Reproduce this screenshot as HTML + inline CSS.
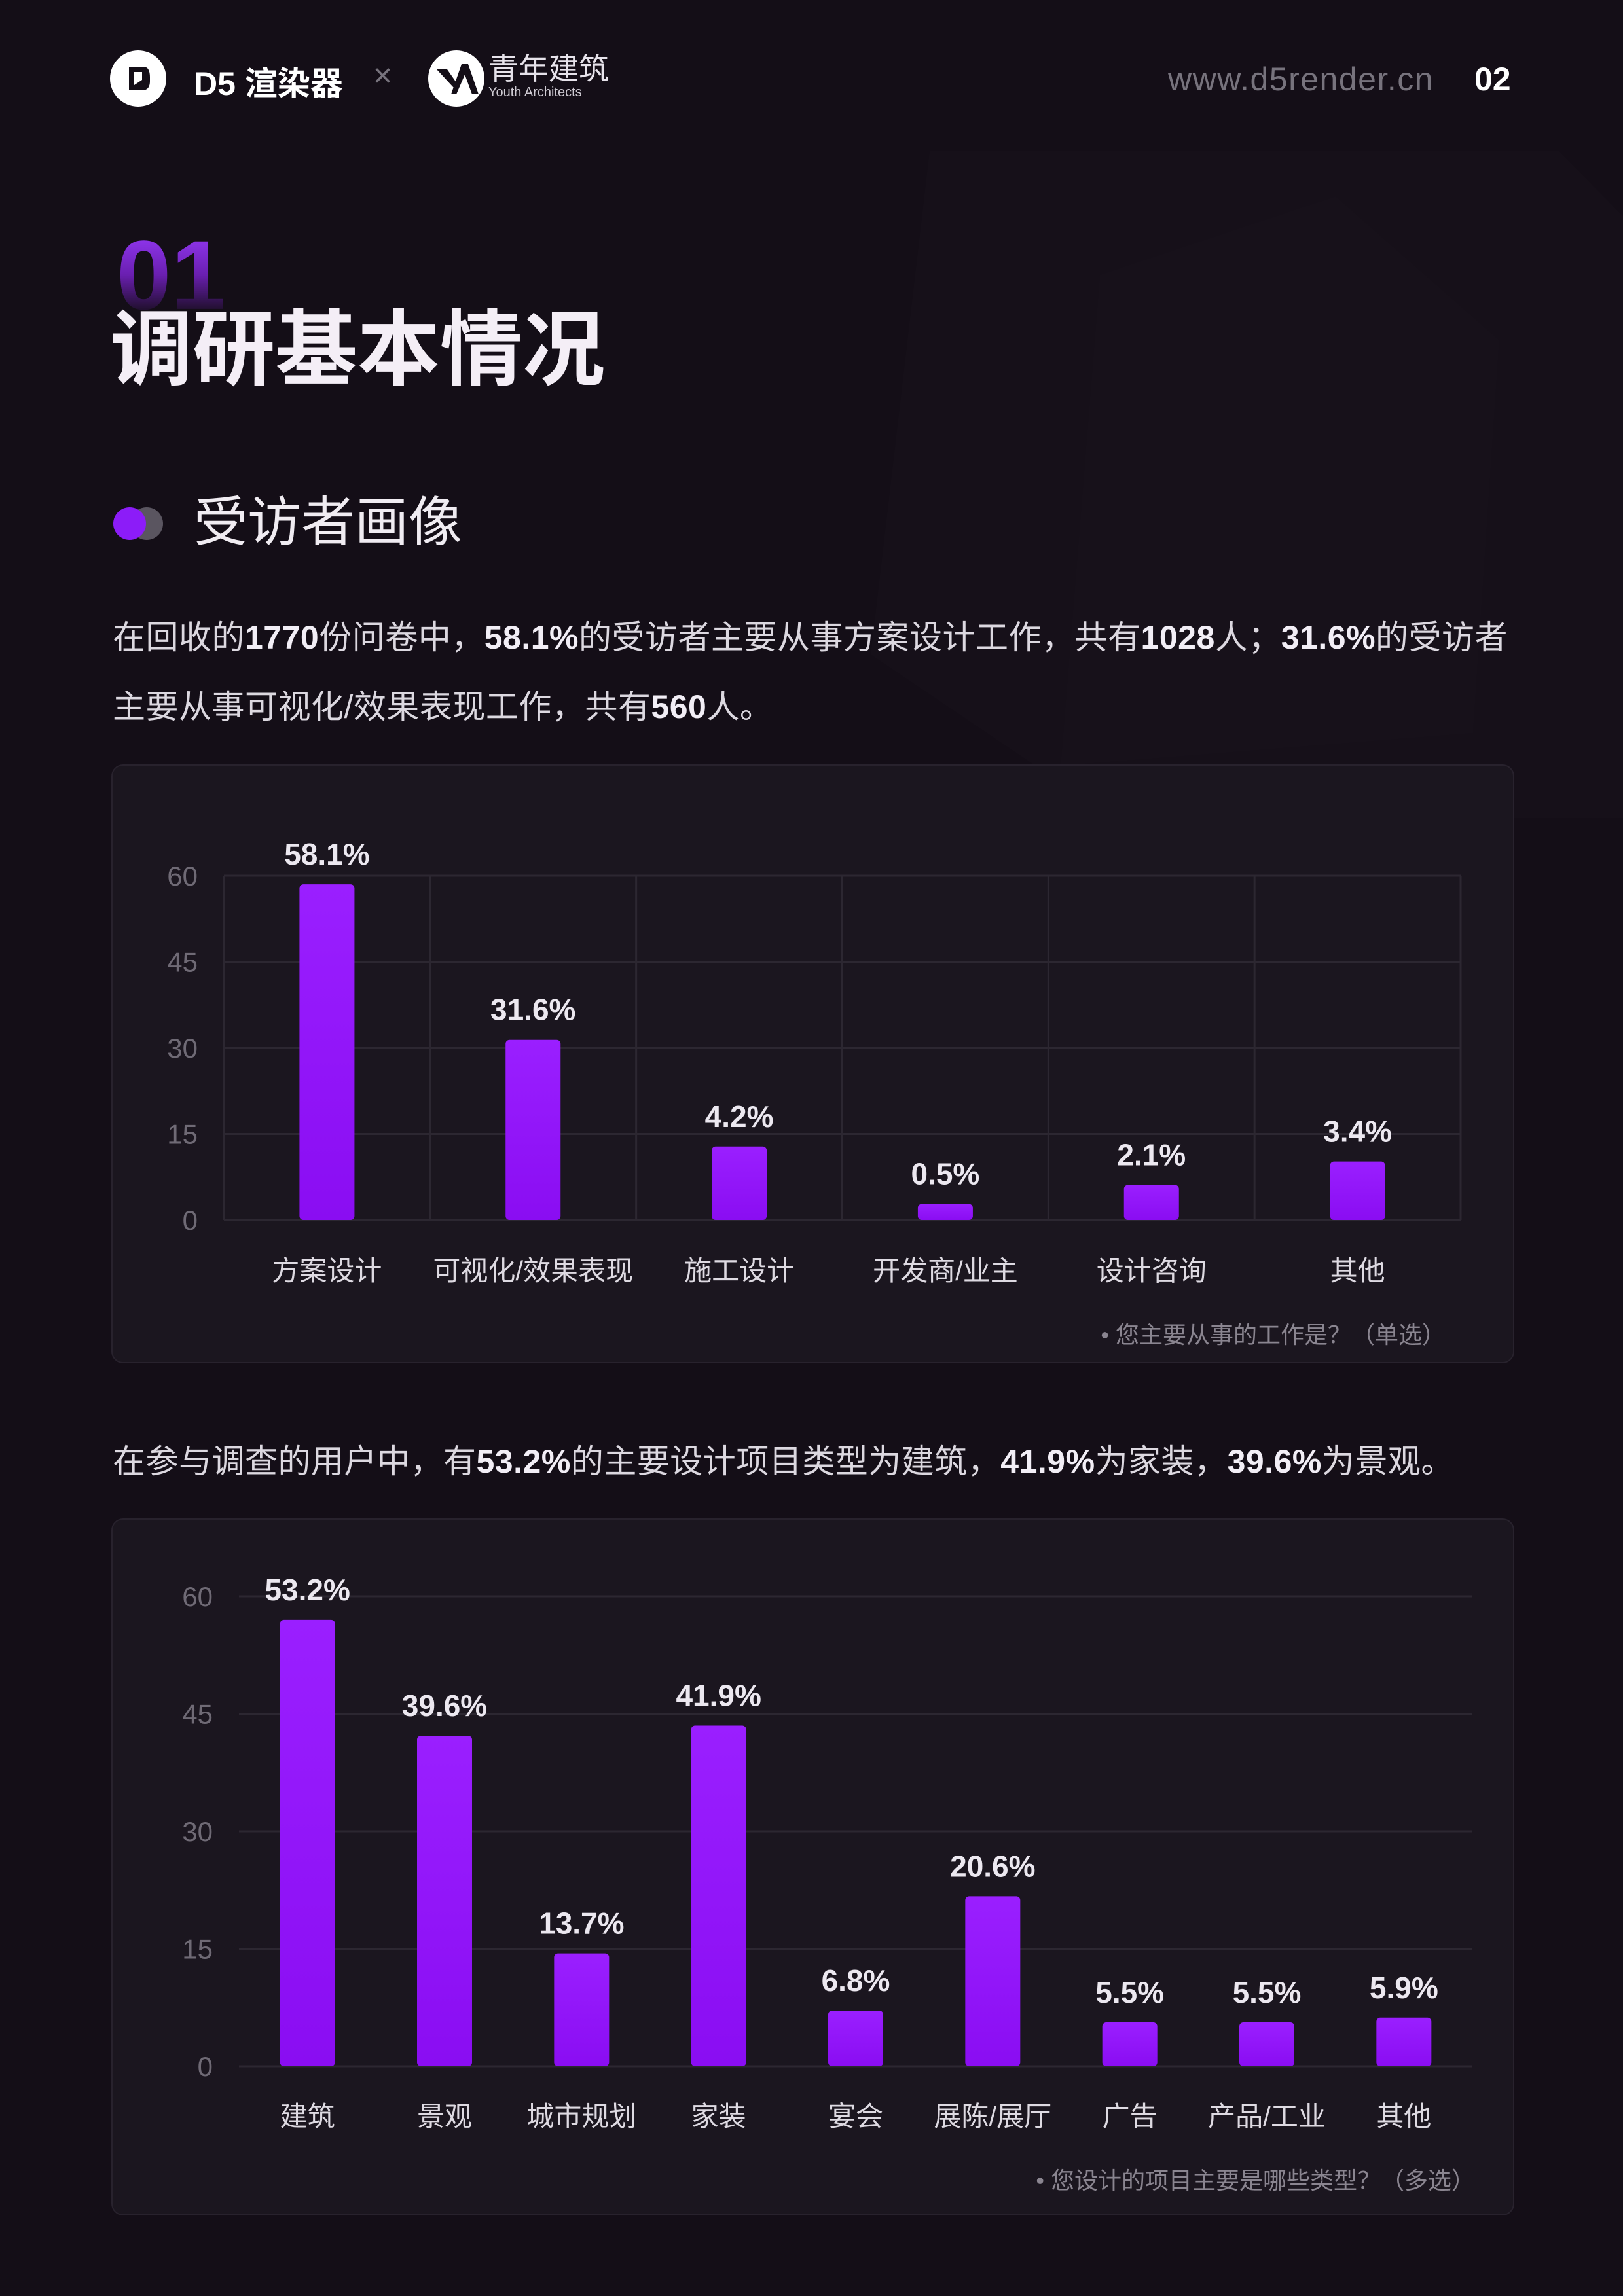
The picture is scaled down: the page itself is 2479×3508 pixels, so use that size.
<!DOCTYPE html>
<html><head><meta charset="utf-8">
<style>
html,body{margin:0;padding:0;}
body{width:2479px;height:3508px;background:#140e17;position:relative;overflow:hidden;font-family:"Liberation Sans","Noto Sans CJK SC",sans-serif;color:#e8e4ec;}
.abs{position:absolute;}
.para{position:absolute;left:172px;font-size:50px;color:#dcd8e0;white-space:nowrap;letter-spacing:0.5px;}
.para b{font-weight:bold;color:#f2eef6;}
.card{position:absolute;left:170px;width:2139px;background:#1b161f;border:2px solid #28222d;border-radius:18px;}
svg text{font-family:"Liberation Sans","Noto Sans CJK SC",sans-serif;}
</style></head>
<body>
<svg class="abs" style="left:0;top:0" width="2479" height="1400">
<polygon points="1420,230 2380,230 2479,330 2479,1250 1700,1250 1330,1000" fill="#161019"/>
<polygon points="1680,420 2040,300 2290,520 2250,1120 1620,1170" fill="#17111a"/>
</svg>

<div>
<svg class="abs" style="left:167px;top:76px" width="88" height="88">
<circle cx="44" cy="44" r="43" fill="#fff"/>
<path d="M30 26 L52 26 Q62 26 62 42 L62 48 Q62 62 50 62 L30 62 Z M38 34 L38 54 L50 46 L50 34 Z" fill="#140e17"/>
</svg>
<div class="abs" style="left:296px;top:88px;font-size:50px;font-weight:bold;color:#fff">D5 渲染器</div>
<div class="abs" style="left:570px;top:86px;font-size:50px;color:#77737d">×</div>
<svg class="abs" style="left:653px;top:76px" width="88" height="88">
<circle cx="44" cy="44" r="43" fill="#fff"/>
<path d="M14 30 L30 30 L44 50 L40 58 Z M52 22 L62 22 L78 68 L68 68 L57 38 L44 68 L36 68 Z" fill="#140e17"/>
</svg>
<div class="abs" style="left:746px;top:80px;font-size:46px;color:#e6e2ea;line-height:50px">青年建筑<div style="font-size:20px;line-height:22px;color:#cfcbd3">Youth Architects</div></div>
<div class="abs" style="left:1784px;top:92px;font-size:50px;letter-spacing:1.5px;color:#77737d">www.d5render.cn</div>
<div class="abs" style="left:2252px;top:92px;font-size:50px;font-weight:bold;color:#fff">02</div>
</div>

<div class="abs" style="left:178px;top:345px;font-size:150px;font-weight:bold;line-height:150px;background:linear-gradient(180deg,#9a3cff 0%,#6a1fb0 50%,rgba(40,15,60,0.2) 90%);-webkit-background-clip:text;background-clip:text;color:transparent">01</div>
<div class="abs" style="left:168px;top:460px;font-size:126px;font-weight:bold;color:#f4eef6;line-height:150px">调研基本情况</div>

<svg class="abs" style="left:166px;top:770px" width="90" height="60">
<circle cx="58" cy="30" r="25" fill="#5a5560"/>
<circle cx="32" cy="30" r="25" fill="#8c1cf8"/>
</svg>
<div class="abs" style="left:296px;top:746px;font-size:82px;color:#f0ecf2;line-height:106px">受访者画像</div>

<div class="para" style="top:934px">在回收的<b>1770</b>份问卷中，<b>58.1%</b>的受访者主要从事方案设计工作，共有<b>1028</b>人；<b>31.6%</b>的受访者</div>
<div class="para" style="top:1040px">主要从事可视化/效果表现工作，共有<b>560</b>人。</div>

<div class="card" style="top:1168px;height:911px"></div>
<svg id="c1" class="abs" style="left:0;top:0" width="2479" height="2100"></svg>

<div class="para" style="top:2193px">在参与调查的用户中，有<b>53.2%</b>的主要设计项目类型为建筑，<b>41.9%</b>为家装，<b>39.6%</b>为景观。</div>

<div class="card" style="top:2320px;height:1061px"></div>
<svg id="c2" class="abs" style="left:0;top:0" width="2479" height="3508"></svg>

<script>
const ticks = [0, 15, 30, 45, 60];
const cats1 = ["方案设计","可视化/效果表现","施工设计","开发商/业主","设计咨询","其他"];
const vals1 = [58.5, 31.4, 12.8, 2.8, 6.1, 10.2];
const labels1 = ["58.1%","31.6%","4.2%","0.5%","2.1%","3.4%"];
const cats2 = ["建筑","景观","城市规划","家装","宴会","展陈/展厅","广告","产品/工业","其他"];
const vals2 = [57.0, 42.2, 14.4, 43.5, 7.1, 21.7, 5.6, 5.6, 6.2];
const labels2 = ["53.2%","39.6%","13.7%","41.9%","6.8%","20.6%","5.5%","5.5%","5.9%"];

const NS = "http://www.w3.org/2000/svg";
function mk(svg, tag, attrs, txt){
  const e = document.createElementNS(NS, tag);
  for (const k in attrs) e.setAttribute(k, attrs[k]);
  if (txt !== undefined) e.textContent = txt;
  svg.appendChild(e);
  return e;
}
function drawChart(svgId, cats, vals, labels, cfg){
  const svg = document.getElementById(svgId);
  const defs = mk(svg, "defs", {});
  const g = document.createElementNS(NS, "linearGradient");
  g.setAttribute("id", svgId + "grad"); g.setAttribute("x1","0"); g.setAttribute("y1","0"); g.setAttribute("x2","0"); g.setAttribute("y2","1");
  defs.appendChild(g);
  mk(g, "stop", {offset:"0", "stop-color":"#9a1fff"});
  mk(g, "stop", {offset:"1", "stop-color":"#8a0df2"});
  const y = v => cfg.y0 - (v / 60) * (cfg.y0 - cfg.y60);
  const bw = (cfg.x1 - cfg.x0) / cats.length;
  ticks.forEach(t => {
    const ln = mk(svg, "line", {x1:cfg.x0, x2:cfg.x1, y1:y(t), y2:y(t), stroke:"#2c2731", "stroke-width":3});
    
    
    const tx = mk(svg, "text", {x:cfg.x0 - 40, y:y(t) + 15, "text-anchor":"end", "font-size":42, fill:"#6f6a75"}, String(t));
    
    
  });
  if (cfg.vgrid) {
    for (let i = 0; i <= cats.length; i++) {
      const vl = mk(svg, "line", {x1:cfg.x0 + i*bw, x2:cfg.x0 + i*bw, y1:y(60), y2:y(0), stroke:"#2c2731", "stroke-width":3});
      
      
    }
  }
  cats.forEach((c, i) => {
    const cx = cfg.x0 + bw * (i + 0.5);
    const top = y(vals[i]);
    const r = mk(svg, "rect", {x:cx - 42, y:top, width:84, height:y(0) - top, rx:6, fill:"url(#" + svgId + "grad)"});
    
    
    const vt = mk(svg, "text", {x:cx, y:top - 30, "text-anchor":"middle", "font-size":46, "font-weight":"bold", fill:"#ece8f0"}, labels[i]);
    
    
    const ct = mk(svg, "text", {x:cx, y:cfg.catY, "text-anchor":"middle", "font-size":42, fill:"#dedae2"}, c);
    
    
  });
  const fn = mk(svg, "text", {x:cfg.noteX, y:cfg.noteY, "text-anchor":"end", "font-size":36, fill:"#8a8590"}, cfg.note);
  
  
}
drawChart("c1", cats1, vals1, labels1, {x0:342, x1:2231, y0:1864, y60:1338, catY:1956, vgrid:true,
  noteX:2208, noteY:2052, note:"• 您主要从事的工作是？（单选）"});
drawChart("c2", cats2, vals2, labels2, {x0:365, x1:2249, y0:3157, y60:2439, catY:3248, vgrid:false,
  noteX:2253, noteY:3344, note:"• 您设计的项目主要是哪些类型？（多选）"});
</script>
</body></html>
